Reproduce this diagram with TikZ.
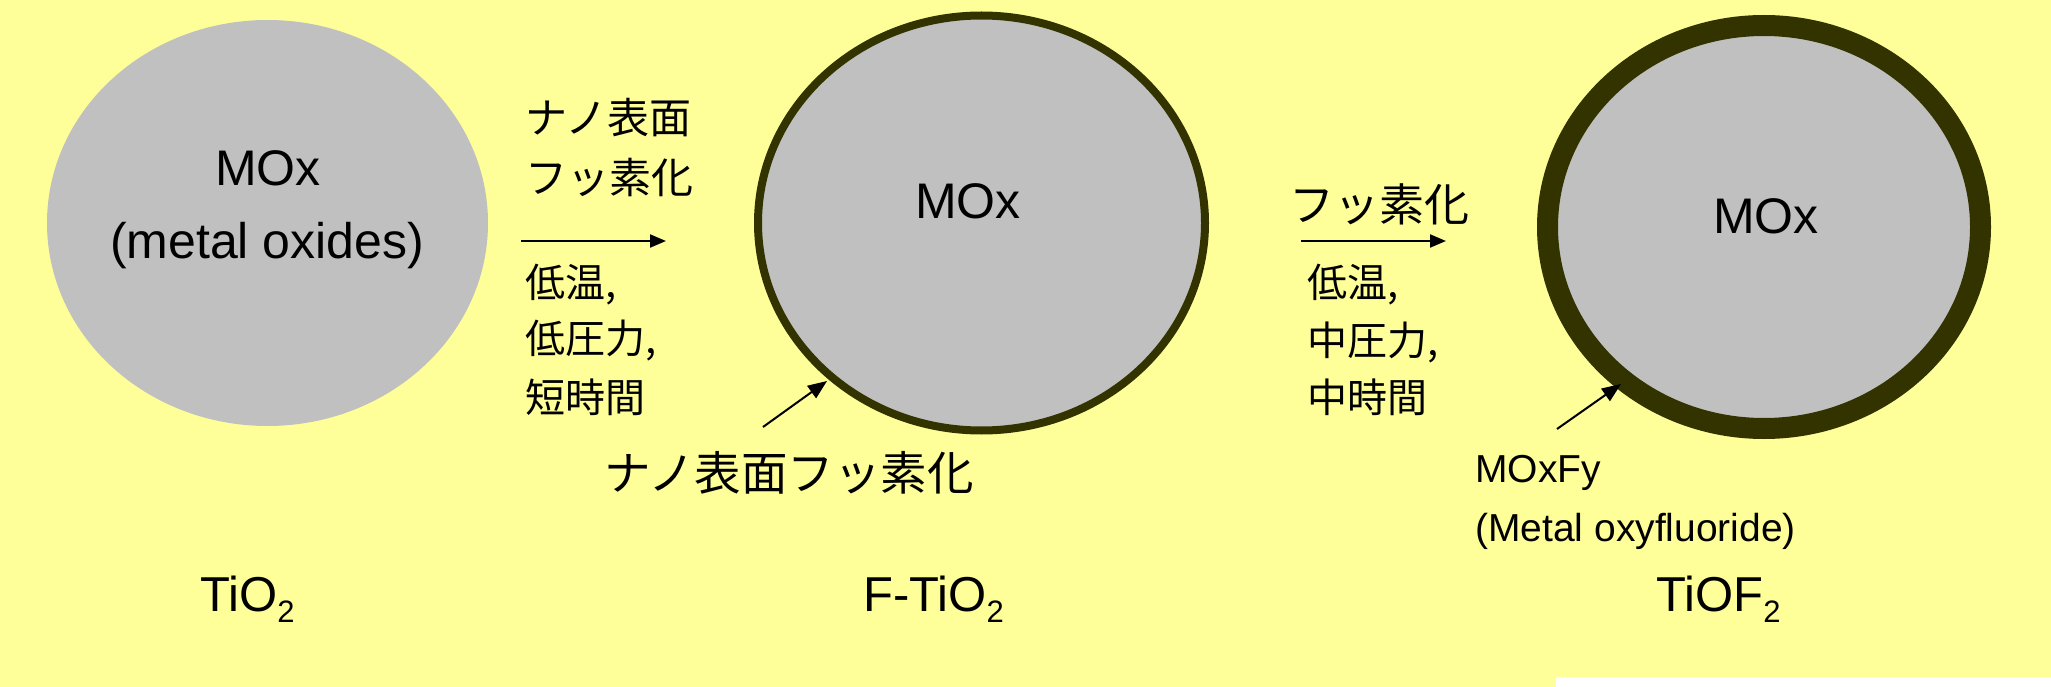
\documentclass[tikz,border=0pt]{standalone}
\usepackage{fontspec}
\setmainfont{Liberation Sans}
\newfontfamily\jp{Noto Sans CJK JP}
\usetikzlibrary{shapes.geometric,arrows.meta}
\definecolor{bgy}{HTML}{FFFF99}
\definecolor{core}{HTML}{C0C0C0}
\definecolor{shell}{HTML}{333300}
\newcommand{\fs}[1]{\fontsize{#1}{#1}\selectfont}
\newcommand{\mysub}[1]{\raisebox{-11pt}{\fs{31}#1}}
\begin{document}
\begin{tikzpicture}[x=1pt,y=-1pt,
  particle/.style={ellipse, fill=core, inner sep=0pt, outer sep=0pt},
  lbl/.style={inner sep=0pt, anchor=base},
  lblw/.style={inner sep=0pt, anchor=base west},
  jlbl/.style={inner sep=0pt, anchor=west},
  flow/.style={line width=2pt, -{Triangle[length=16pt,width=13pt]}},
  pointer/.style={line width=2pt, -{Triangle[length=19pt,width=15pt]}}]

\fill[bgy] (0,0) rectangle (2051,687);
\fill[white] (1556,677) rectangle (2051,687);
\useasboundingbox (0,0) rectangle (2051,687);

% particles
\node[particle, minimum width=441pt, minimum height=406pt] (p1) at (267.5,223) {};
\node[particle, draw=shell, line width=8pt, minimum width=447pt, minimum height=415pt] (p2) at (981.5,223) {};
\node[particle, draw=shell, line width=21pt, minimum width=433pt, minimum height=403pt] (p3) at (1764,227) {};

% core labels
\node[lbl, font=\fs{50}] (m1) at (268,186) {MOx};
\node[lbl, font=\fs{50}] (m1b) at (267,258.5) {(metal oxides)};
\node[lbl, font=\fs{50}] (m2) at (968,219) {MOx};
\node[lbl, font=\fs{50}] (m3) at (1766,234) {MOx};

% bottom labels
\node[lbl, font=\fs{49}] (n1) at (247.5,611) {TiO\mysub{2}};
\node[lbl, font=\fs{49}] (n2) at (933.5,611) {F-TiO\mysub{2}};
\node[lbl, font=\fs{49}] (n3) at (1718.5,611) {TiOF\mysub{2}};

% step 1
\node[jlbl, font=\jp\fs{42}] (s1a) at (525,118) {ナノ表面};
\node[jlbl, font=\jp\fs{42}] (s1b) at (525,177) {フッ素化};
\coordinate (f1s) at (521,241);
\coordinate (f1e) at (666,241);
\draw[flow] (f1s) -- (f1e);
\node[jlbl, font=\jp\fs{40}] (c1a) at (525,285) {低温,};
\node[jlbl, font=\jp\fs{40}] (c1b) at (525,341) {低圧力,};
\node[jlbl, font=\jp\fs{40}] (c1c) at (525,397) {短時間};

% step 2
\node[jlbl, font=\jp\fs{45}] (s2a) at (1289,204) {フッ素化};
\coordinate (f2s) at (1301,241);
\coordinate (f2e) at (1446,241);
\draw[flow] (f2s) -- (f2e);
\node[jlbl, font=\jp\fs{40}] (c2a) at (1307,285) {低温,};
\node[jlbl, font=\jp\fs{40}] (c2b) at (1307,342) {中圧力,};
\node[jlbl, font=\jp\fs{40}] (c2c) at (1307,397) {中時間};

% surface labels
\node[jlbl, font=\jp\fs{46.5}] (surf) at (604,473) {ナノ表面フッ素化};
\coordinate (t2) at (763,427);
\coordinate (h2) at (827,381);
\draw[pointer] (t2) -- (h2);

\node[lblw, font=\fs{39}] (fy1) at (1475,482) {MOxFy};
\node[lblw, font=\fs{39}] (fy2) at (1475,541) {(Metal oxyfluoride)};
\coordinate (t3) at (1557,429);
\coordinate (h3) at (1621,384);
\draw[pointer] (t3) -- (h3);
\end{tikzpicture}
\end{document}
